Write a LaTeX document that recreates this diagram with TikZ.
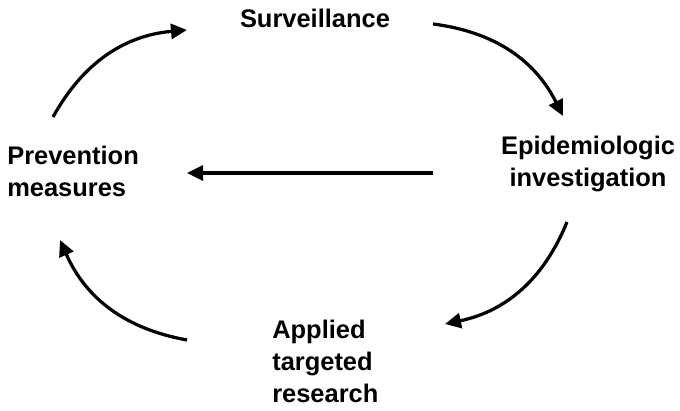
\documentclass[tikz,border=0pt]{standalone}
\usepackage{fontspec}
\setmainfont{Liberation Sans}
\usetikzlibrary{arrows.meta}
\tikzset{
    label/.style={font=\bfseries\fontsize{18.1}{22.8}\selectfont,inner sep=0pt},
    cycle/.style={line width=2.3pt,-{Triangle[length=11.4pt,width=10.7pt]}}
}
\begin{document}
\begin{tikzpicture}[x=0.025cm,y=0.025cm]
    \useasboundingbox (0,0) rectangle (680,-411);
    % stages
    \node[label,anchor=base] (surv) at (315,-28) {Surveillance};
    \node[label,anchor=base,align=center] (epi) at (588,-187) {Epidemiologic\\investigation};
    \node[label,anchor=base west,align=left] (res) at (272,-403) {Applied\\targeted\\research};
    \node[label,anchor=base west,align=left] (prev) at (7,-197) {Prevention\\measures};
    % arrow ends
    \coordinate (P1) at (53,-117);
    \coordinate (S0) at (187,-30);
    \coordinate (S1) at (433,-24);
    \coordinate (E0) at (563,-116);
    \coordinate (E1) at (567,-222);
    \coordinate (R0) at (445,-324);
    \coordinate (R1) at (187,-340);
    \coordinate (P0) at (60,-240);
    \coordinate (E2) at (433,-173);
    \coordinate (P2) at (187,-173);
    \draw[cycle] (P1) to[bend left=28] (S0);
    \draw[cycle] (S1) to[bend left=28] (E0);
    \draw[cycle] (E1) to[bend left=28] (R0);
    \draw[cycle] (R1) to[bend left=28] (P0);
    \draw[cycle] (E2) -- (P2);
\end{tikzpicture}
\end{document}
